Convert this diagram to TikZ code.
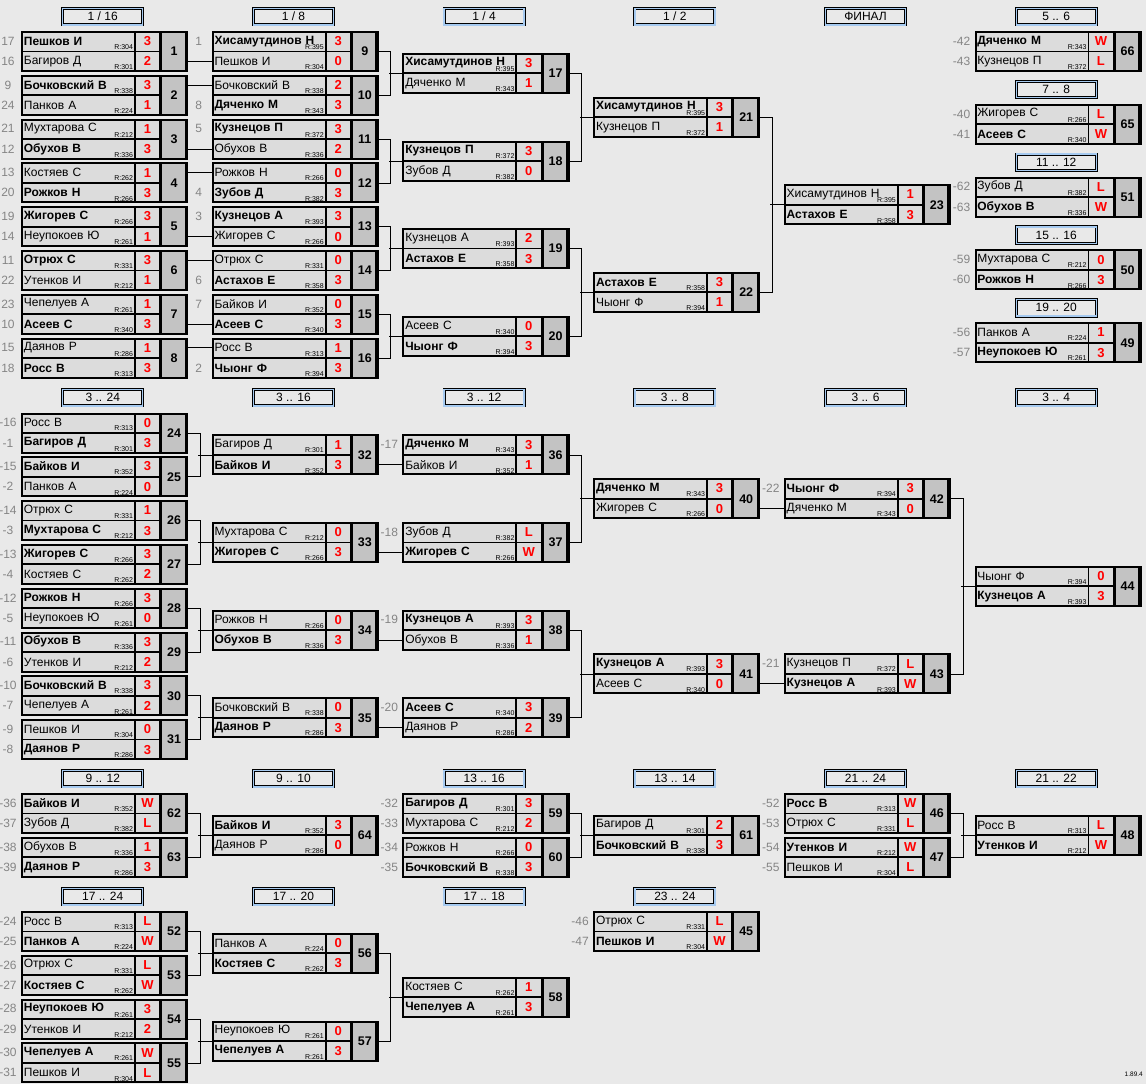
\documentclass[tikz,border=0pt]{standalone}
\usepackage{fontspec}
\setmainfont{Liberation Sans}
\usetikzlibrary{positioning,calc}

\definecolor{bgcol}{HTML}{E9E9E9}
\definecolor{cellcol}{HTML}{DCDCDC}
\definecolor{numcol}{HTML}{C3C3C3}
\definecolor{hdcol}{HTML}{A6CAF0}
\definecolor{seedcol}{HTML}{858585}

\tikzset{
  namecell/.style={draw,line width=0.8pt,fill=cellcol,anchor=north west,inner xsep=2.5pt,inner ysep=0pt,
    text width=108pt,align=left,minimum height=19.5pt,font=\fontsize{12}{12}\selectfont},
  scorecell/.style={draw,line width=0.8pt,fill=cellcol,anchor=north west,inner sep=0pt,
    minimum width=24.5pt,minimum height=19.5pt,text=red,font=\bfseries\fontsize{13}{13}\selectfont},
  numcell/.style={draw,line width=2pt,fill=numcol,anchor=north west,inner sep=0pt,
    minimum width=26pt,minimum height=39pt,font=\bfseries\fontsize{12.5}{13}\selectfont},
  rtag/.style={fill=cellcol,anchor=south east,inner sep=0.6pt,font=\fontsize{7}{7}\selectfont},
  gframe/.style={draw,line width=2pt,anchor=north west,inner sep=0pt,minimum width=163.5pt,minimum height=39pt},
  seedlbl/.style={text=seedcol,inner sep=0pt,font=\fontsize{12}{12}\selectfont},
  stagebox/.style={draw=black,double=hdcol,double distance=1.4pt,line width=0.8pt,anchor=north,
    minimum width=80pt,minimum height=16.5pt,inner sep=0pt,font=\fontsize{12}{12}\selectfont},
  wire/.style={line width=0.8pt}
}

\newcommand{\win}{\bfseries}
\newcommand{\colx}[1]{21+190.7*(#1-1)}
\newcommand{\game}[9]{%
  \coordinate (g#1-o) at ({\colx{#2}},-#3);
  \node[namecell] (g#1-a) at (g#1-o) {#4};
  \node[rtag] (g#1-ar) at ([shift={(-1,1)}]g#1-a.south east) {R:#5};
  \node[scorecell] (g#1-as) at (g#1-a.north east) {#6};
  \node[namecell] (g#1-b) at (g#1-a.south west) {#7};
  \node[rtag] (g#1-br) at ([shift={(-1,1)}]g#1-b.south east) {R:#8};
  \node[scorecell] (g#1-bs) at (g#1-b.north east) {#9};
  \node[numcell] (g#1-n) at (g#1-as.north east) {#1};
  \node[gframe] (g#1) at (g#1-o) {};
}
\newcommand{\seed}[3]{\node[seedlbl] (g#1-#2s) at ([xshift=-13pt]g#1-#2.west) {#3};}
\newcommand{\seeds}[3]{\seed{#1}{a}{#2}\seed{#1}{b}{#3}}
\newcommand{\stage}[4]{\node[stagebox] (#1) at ({\colx{#2}+81.75},-#3) {#4};}
\newcommand{\feed}[3]{\draw[wire] (g#1.east |- g#2-#3) -- (g#2-#3.west);}
\newcommand{\pairup}[3]{\draw[wire] (g#1.east) -- ++(13.6,0) |- (g#2.east); \draw[wire] (g#3.west) -- ++(-13.6,0);}

\begin{document}
\begin{tikzpicture}[x=1pt,y=1pt]
\useasboundingbox (0,0) rectangle (1146,-1084);
\fill[bgcol] (0,0) rectangle (1146,-1084);

% headers
\stage{h1}{1}{8}{1 / 16}
\stage{h2}{2}{8}{1 / 8}
\stage{h3}{3}{8}{1 / 4}
\stage{h4}{4}{8}{1 / 2}
\stage{h5}{5}{8}{ФИНАЛ}
\stage{h6}{6}{8}{5 .. 6}
\stage{h7}{6}{80.8}{7 .. 8}
\stage{h8}{6}{153.6}{11 .. 12}
\stage{h9}{6}{226.4}{15 .. 16}
\stage{h10}{6}{299.2}{19 .. 20}
\stage{h11}{1}{389}{3 .. 24}
\stage{h12}{2}{389}{3 .. 16}
\stage{h13}{3}{389}{3 .. 12}
\stage{h14}{4}{389}{3 .. 8}
\stage{h15}{5}{389}{3 .. 6}
\stage{h16}{6}{389}{3 .. 4}
\stage{h17}{1}{770}{9 .. 12}
\stage{h18}{2}{770}{9 .. 10}
\stage{h19}{3}{770}{13 .. 16}
\stage{h20}{4}{770}{13 .. 14}
\stage{h21}{5}{770}{21 .. 24}
\stage{h22}{6}{770}{21 .. 22}
\stage{h23}{1}{888}{17 .. 24}
\stage{h24}{2}{888}{17 .. 20}
\stage{h25}{3}{888}{17 .. 18}
\stage{h26}{4}{888}{23 .. 24}

% main bracket
\game{1}{1}{31}{\win Пешков И}{304}{3}{Багиров Д}{301}{2}
\game{2}{1}{74.8}{\win Бочковский В}{338}{3}{Панков А}{224}{1}
\game{3}{1}{118.6}{Мухтарова С}{212}{1}{\win Обухов В}{336}{3}
\game{4}{1}{162.4}{Костяев С}{262}{1}{\win Рожков Н}{266}{3}
\game{5}{1}{206.2}{\win Жигорев С}{266}{3}{Неупокоев Ю}{261}{1}
\game{6}{1}{250}{\win Отрюх С}{331}{3}{Утенков И}{212}{1}
\game{7}{1}{293.8}{Чепелуев А}{261}{1}{\win Асеев С}{340}{3}
\game{8}{1}{337.6}{Даянов Р}{286}{1}{\win Росс В}{313}{3}
\game{9}{2}{31}{\win Хисамутдинов Н}{395}{3}{Пешков И}{304}{0}
\game{10}{2}{74.8}{Бочковский В}{338}{2}{\win Дяченко М}{343}{3}
\game{11}{2}{118.6}{\win Кузнецов П}{372}{3}{Обухов В}{336}{2}
\game{12}{2}{162.4}{Рожков Н}{266}{0}{\win Зубов Д}{382}{3}
\game{13}{2}{206.2}{\win Кузнецов А}{393}{3}{Жигорев С}{266}{0}
\game{14}{2}{250}{Отрюх С}{331}{0}{\win Астахов Е}{358}{3}
\game{15}{2}{293.8}{Байков И}{352}{0}{\win Асеев С}{340}{3}
\game{16}{2}{337.6}{Росс В}{313}{1}{\win Чыонг Ф}{394}{3}
\game{17}{3}{52.9}{\win Хисамутдинов Н}{395}{3}{Дяченко М}{343}{1}
\game{18}{3}{140.5}{\win Кузнецов П}{372}{3}{Зубов Д}{382}{0}
\game{19}{3}{228.1}{Кузнецов А}{393}{2}{\win Астахов Е}{358}{3}
\game{20}{3}{315.7}{Асеев С}{340}{0}{\win Чыонг Ф}{394}{3}
\game{21}{4}{96.7}{\win Хисамутдинов Н}{395}{3}{Кузнецов П}{372}{1}
\game{22}{4}{271.9}{\win Астахов Е}{358}{3}{Чыонг Ф}{394}{1}
\game{23}{5}{184.3}{Хисамутдинов Н}{395}{1}{\win Астахов Е}{358}{3}
\game{66}{6}{31}{\win Дяченко М}{343}{W}{Кузнецов П}{372}{L}
\game{65}{6}{103.8}{Жигорев С}{266}{L}{\win Асеев С}{340}{W}
\game{51}{6}{176.6}{Зубов Д}{382}{L}{\win Обухов В}{336}{W}
\game{50}{6}{249.4}{Мухтарова С}{212}{0}{\win Рожков Н}{266}{3}
\game{49}{6}{322.2}{Панков А}{224}{1}{\win Неупокоев Ю}{261}{3}

\seeds{1}{17}{16} \seeds{2}{9}{24} \seeds{3}{21}{12} \seeds{4}{13}{20}
\seeds{5}{19}{14} \seeds{6}{11}{22} \seeds{7}{23}{10} \seeds{8}{15}{18}
\seed{9}{a}{1} \seed{10}{b}{8} \seed{11}{a}{5} \seed{12}{b}{4}
\seed{13}{a}{3} \seed{14}{b}{6} \seed{15}{a}{7} \seed{16}{b}{2}
\seeds{66}{-42}{-43} \seeds{65}{-40}{-41} \seeds{51}{-62}{-63}
\seeds{50}{-59}{-60} \seeds{49}{-56}{-57}

\feed{1}{9}{b} \feed{2}{10}{a} \feed{3}{11}{b} \feed{4}{12}{a}
\feed{5}{13}{b} \feed{6}{14}{a} \feed{7}{15}{b} \feed{8}{16}{a}
\pairup{9}{10}{17} \pairup{11}{12}{18} \pairup{13}{14}{19} \pairup{15}{16}{20}
\pairup{17}{18}{21} \pairup{19}{20}{22} \pairup{21}{22}{23}

% places 3 .. 24
\game{24}{1}{412.5}{Росс В}{313}{0}{\win Багиров Д}{301}{3}
\game{25}{1}{456.3}{\win Байков И}{352}{3}{Панков А}{224}{0}
\game{26}{1}{500.1}{Отрюх С}{331}{1}{\win Мухтарова С}{212}{3}
\game{27}{1}{543.9}{\win Жигорев С}{266}{3}{Костяев С}{262}{2}
\game{28}{1}{587.7}{\win Рожков Н}{266}{3}{Неупокоев Ю}{261}{0}
\game{29}{1}{631.5}{\win Обухов В}{336}{3}{Утенков И}{212}{2}
\game{30}{1}{675.3}{\win Бочковский В}{338}{3}{Чепелуев А}{261}{2}
\game{31}{1}{719.1}{Пешков И}{304}{0}{\win Даянов Р}{286}{3}
\game{32}{2}{434.4}{Багиров Д}{301}{1}{\win Байков И}{352}{3}
\game{33}{2}{522}{Мухтарова С}{212}{0}{\win Жигорев С}{266}{3}
\game{34}{2}{609.6}{Рожков Н}{266}{0}{\win Обухов В}{336}{3}
\game{35}{2}{697.2}{Бочковский В}{338}{0}{\win Даянов Р}{286}{3}
\game{36}{3}{434.4}{\win Дяченко М}{343}{3}{Байков И}{352}{1}
\game{37}{3}{522}{Зубов Д}{382}{L}{\win Жигорев С}{266}{W}
\game{38}{3}{609.6}{\win Кузнецов А}{393}{3}{Обухов В}{336}{1}
\game{39}{3}{697.2}{\win Асеев С}{340}{3}{Даянов Р}{286}{2}
\game{40}{4}{478.2}{\win Дяченко М}{343}{3}{Жигорев С}{266}{0}
\game{41}{4}{653.4}{\win Кузнецов А}{393}{3}{Асеев С}{340}{0}
\game{42}{5}{478.2}{\win Чыонг Ф}{394}{3}{Дяченко М}{343}{0}
\game{43}{5}{653.4}{Кузнецов П}{372}{L}{\win Кузнецов А}{393}{W}
\game{44}{6}{565.8}{Чыонг Ф}{394}{0}{\win Кузнецов А}{393}{3}

\seeds{24}{-16}{-1} \seeds{25}{-15}{-2} \seeds{26}{-14}{-3} \seeds{27}{-13}{-4}
\seeds{28}{-12}{-5} \seeds{29}{-11}{-6} \seeds{30}{-10}{-7} \seeds{31}{-9}{-8}
\seed{36}{a}{-17} \seed{37}{a}{-18} \seed{38}{a}{-19} \seed{39}{a}{-20}
\seed{42}{a}{-22} \seed{43}{a}{-21}

\pairup{24}{25}{32} \pairup{26}{27}{33} \pairup{28}{29}{34} \pairup{30}{31}{35}
\feed{32}{36}{b} \feed{33}{37}{b} \feed{34}{38}{b} \feed{35}{39}{b}
\pairup{36}{37}{40} \pairup{38}{39}{41}
\feed{40}{42}{b} \feed{41}{43}{b}
\pairup{42}{43}{44}

% places 9 .. 24
\game{62}{1}{793}{\win Байков И}{352}{W}{Зубов Д}{382}{L}
\game{63}{1}{836.8}{Обухов В}{336}{1}{\win Даянов Р}{286}{3}
\game{64}{2}{814.9}{\win Байков И}{352}{3}{Даянов Р}{286}{0}
\game{59}{3}{793}{\win Багиров Д}{301}{3}{Мухтарова С}{212}{2}
\game{60}{3}{836.8}{Рожков Н}{266}{0}{\win Бочковский В}{338}{3}
\game{61}{4}{814.9}{Багиров Д}{301}{2}{\win Бочковский В}{338}{3}
\game{46}{5}{793}{\win Росс В}{313}{W}{Отрюх С}{331}{L}
\game{47}{5}{836.8}{\win Утенков И}{212}{W}{Пешков И}{304}{L}
\game{48}{6}{814.9}{Росс В}{313}{L}{\win Утенков И}{212}{W}
\game{52}{1}{911}{Росс В}{313}{L}{\win Панков А}{224}{W}
\game{53}{1}{954.8}{Отрюх С}{331}{L}{\win Костяев С}{262}{W}
\game{54}{1}{998.6}{\win Неупокоев Ю}{261}{3}{Утенков И}{212}{2}
\game{55}{1}{1042.4}{\win Чепелуев А}{261}{W}{Пешков И}{304}{L}
\game{56}{2}{932.9}{Панков А}{224}{0}{\win Костяев С}{262}{3}
\game{57}{2}{1020.5}{Неупокоев Ю}{261}{0}{\win Чепелуев А}{261}{3}
\game{58}{3}{976.7}{Костяев С}{262}{1}{\win Чепелуев А}{261}{3}
\game{45}{4}{911}{Отрюх С}{331}{L}{\win Пешков И}{304}{W}

\seeds{62}{-36}{-37} \seeds{63}{-38}{-39} \seeds{59}{-32}{-33} \seeds{60}{-34}{-35}
\seeds{46}{-52}{-53} \seeds{47}{-54}{-55}
\seeds{52}{-24}{-25} \seeds{53}{-26}{-27} \seeds{54}{-28}{-29} \seeds{55}{-30}{-31}
\seeds{45}{-46}{-47}

\pairup{62}{63}{64} \pairup{59}{60}{61} \pairup{46}{47}{48}
\pairup{52}{53}{56} \pairup{54}{55}{57} \pairup{56}{57}{58}

\node[anchor=south east,inner sep=0pt,font=\fontsize{6.5}{7}\selectfont] (ver) at (1143,-1077) {1.89.4};
\end{tikzpicture}
\end{document}
